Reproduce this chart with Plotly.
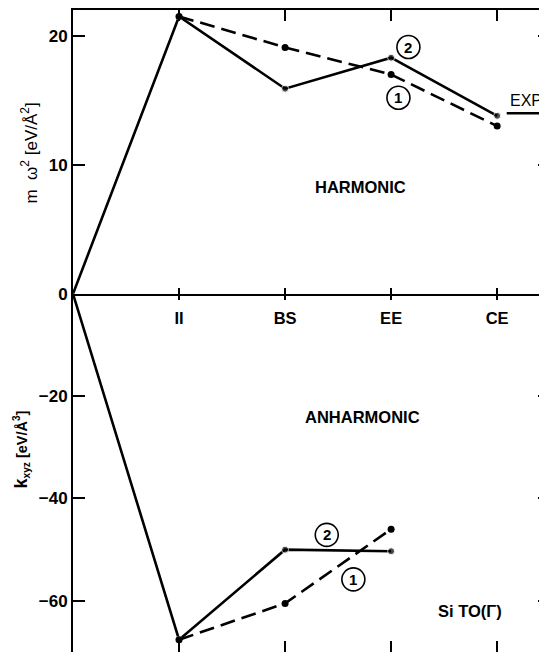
import plotly.graph_objects as go

# ---------------- data ----------------
tick_labels = ["II", "BS", "EE", "CE"]
tick_positions = [1, 2, 3, 4]

# harmonic part: m*omega^2 [eV/A^2]
harm_curve2_x = [0, 1, 2, 3, 4]
harm_curve2_y = [0, 21.5, 15.9, 18.3, 13.8]      # solid, label (2)
harm_curve1_x = [1, 2, 3, 4]
harm_curve1_y = [21.5, 19.1, 17.0, 13.0]         # dashed, label (1)
exp_x = [4.09, 4.47]
exp_y = [14.0, 14.0]                              # experimental value

# anharmonic part: k_xyz [eV/A^3]
anh_curve2_x = [0, 1, 2, 3]
anh_curve2_y = [0, -67.6, -50.0, -50.3]           # solid, label (2)
anh_curve1_x = [1, 2, 3]
anh_curve1_y = [-67.6, -60.5, -46.0]              # dashed, label (1)

harm_ticks = [0, 10, 20]
anh_ticks = [-60, -40, -20]

# ---------------- layout constants ----------------
OFF = 8                      # browser default body margin
W, H = 547 - OFF, 662 - OFF
ML, MT = 73 - OFF, 9 - OFF
XR = [0, 4.47]
split = 0.5579
FONT = "Liberation Sans, Arial, sans-serif"
BLK = "black"

fig = go.Figure()

def msize(xs):
    return [0 if v == 0 else 7 for v in xs]

fig.add_trace(go.Scatter(x=harm_curve2_x, y=harm_curve2_y, mode="lines+markers",
                         line=dict(color=BLK, width=2.6),
                         marker=dict(color=BLK, size=msize(harm_curve2_x)),
                         xaxis="x", yaxis="y", showlegend=False, hoverinfo="skip"))
fig.add_trace(go.Scatter(x=harm_curve1_x, y=harm_curve1_y, mode="lines+markers",
                         line=dict(color=BLK, width=2.6, dash="15px,7px"),
                         marker=dict(color=BLK, size=7),
                         xaxis="x", yaxis="y", showlegend=False, hoverinfo="skip"))
fig.add_trace(go.Scatter(x=exp_x, y=exp_y, mode="lines",
                         line=dict(color=BLK, width=2.6),
                         xaxis="x", yaxis="y", showlegend=False, hoverinfo="skip"))
fig.add_trace(go.Scatter(x=anh_curve2_x, y=anh_curve2_y, mode="lines+markers",
                         line=dict(color=BLK, width=2.6),
                         marker=dict(color=BLK, size=msize(anh_curve2_x)),
                         xaxis="x2", yaxis="y2", showlegend=False, hoverinfo="skip"))
fig.add_trace(go.Scatter(x=anh_curve1_x, y=anh_curve1_y, mode="lines+markers",
                         line=dict(color=BLK, width=2.6, dash="15px,7px"),
                         marker=dict(color=BLK, size=7),
                         xaxis="x2", yaxis="y2", showlegend=False, hoverinfo="skip"))
# dummy traces so overlay axes are drawn
for xa, ya in [("x3", "y"), ("x", "y3"), ("x4", "y2"), ("x2", "y4")]:
    fig.add_trace(go.Scatter(x=[None], y=[None], xaxis=xa, yaxis=ya,
                             showlegend=False, hoverinfo="skip"))

tickfont = dict(family=FONT, size=17, color=BLK, weight="bold")
common = dict(showgrid=False, zeroline=False, linecolor=BLK, tickcolor=BLK)

fig.update_layout(
    width=W, height=H,
    margin=dict(l=ML, r=0, t=MT, b=0),
    paper_bgcolor="white", plot_bgcolor="white",
    font=dict(family=FONT, color=BLK),
    xaxis=dict(domain=[0, 1], anchor="y", range=XR, showline=True, linewidth=1.6,
               mirror=True, ticks="inside", ticklen=6, tickwidth=1.5,
               tickvals=tick_positions, ticktext=tick_labels,
               tickfont=dict(family=FONT, size=16.5, color=BLK, weight="bold"),
               ticklabelstandoff=9, **common),
    xaxis3=dict(overlaying="x", anchor="y", side="top", range=XR, showline=False,
                ticks="inside", ticklen=11, tickwidth=1.5, tickvals=tick_positions,
                showticklabels=False, **common),
    xaxis2=dict(domain=[0, 1], anchor="y2", range=XR, showline=False,
                ticks="inside", ticklen=11, tickwidth=1.5, tickvals=tick_positions,
                showticklabels=False, **common),
    xaxis4=dict(overlaying="x2", anchor="y2", side="top", range=XR, showline=False,
                ticks="inside", ticklen=6, tickwidth=1.5, tickvals=tick_positions,
                showticklabels=False, **common),
    yaxis=dict(domain=[split, 1], anchor="x", range=[0, 22], showline=True, linewidth=2,
               ticks="inside", ticklen=12, tickwidth=1.5, tickvals=harm_ticks,
               tickfont=tickfont, **common),
    yaxis3=dict(overlaying="y", anchor="x", side="right", range=[0, 22], showline=False,
                ticks="inside", ticklen=9, tickwidth=1.5, tickvals=[10, 20],
                showticklabels=False, **common),
    yaxis2=dict(domain=[0, split], anchor="x2", range=[-70, 0], showline=True, linewidth=2,
                ticks="inside", ticklen=12, tickwidth=1.5, tickvals=anh_ticks,
                tickfont=tickfont, **common),
    yaxis4=dict(overlaying="y2", anchor="x2", side="right", range=[-70, 0], showline=False,
                ticks="inside", ticklen=9, tickwidth=1.5, tickvals=anh_ticks,
                showticklabels=False, **common),
)

def px2paper_x(px):
    return (px - OFF - ML) / (W - ML)

def px2paper_y(py):
    return (H - (py - OFF)) / (H - MT)

annotations = []
# axis titles
annotations.append(dict(text="m  ω<sup>2</sup> [eV/Å<sup>2</sup>]", textangle=-90,
                        xref="paper", yref="paper", x=px2paper_x(29), y=px2paper_y(155),
                        xanchor="center", yanchor="middle", showarrow=False,
                        font=dict(family=FONT, size=17, color=BLK)))
annotations.append(dict(text="<b><span style='font-size:18px'>k</span><sub>xyz</sub> [eV/Å<sup>3</sup>]</b>",
                        textangle=-90, xref="paper", yref="paper",
                        x=px2paper_x(21), y=px2paper_y(456),
                        xanchor="center", yanchor="middle", showarrow=False,
                        font=dict(family=FONT, size=14.5, color=BLK)))
# panel texts
bold16 = dict(family=FONT, size=16.5, color=BLK, weight="bold")
annotations.append(dict(text="HARMONIC", xref="x", yref="y", x=2.71, y=8.26,
                        showarrow=False, font=bold16))
annotations.append(dict(text="ANHARMONIC", xref="x2", yref="y2", x=2.73, y=-24.1,
                        showarrow=False, font=bold16))
annotations.append(dict(text="Si TO(Γ)", xref="x2", yref="y2", x=3.74, y=-61.9,
                        showarrow=False, font=bold16))
annotations.append(dict(text="EXP.", xref="x", yref="y", x=4.28, y=15.0,
                        showarrow=False, font=dict(family=FONT, size=16, color=BLK)))

# circled curve labels
labels = [("2", "x", "y", 3.163, 19.13), ("1", "x", "y", 3.069, 15.2),
          ("2", "x2", "y2", 2.393, -47.1), ("1", "x2", "y2", 2.644, -55.8)]
shapes = []
for txt, xr, yr, lx, ly in labels:
    shapes.append(dict(type="circle", xref=xr, yref=yr, xsizemode="pixel", ysizemode="pixel",
                       xanchor=lx, yanchor=ly, x0=-11.5, x1=11.5, y0=-11.5, y1=11.5,
                       line=dict(color=BLK, width=1.6)))
    annotations.append(dict(text="<b>" + txt + "</b>", xref=xr, yref=yr, x=lx, y=ly,
                            showarrow=False, font=dict(family=FONT, size=15, color=BLK)))

fig.update_layout(annotations=annotations, shapes=shapes)
fig.write_html("out.html")
